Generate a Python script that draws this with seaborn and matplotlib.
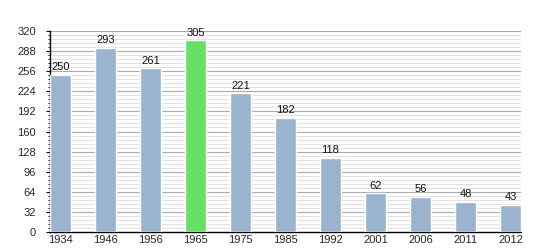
import matplotlib
matplotlib.use("Agg")
import matplotlib.pyplot as plt
import seaborn as sns
import pandas as pd
from matplotlib.ticker import MultipleLocator

years = ["1934", "1946", "1956", "1965", "1975", "1985", "1992", "2001", "2006", "2011", "2012"]
population = [250, 293, 261, 305, 221, 182, 118, 62, 56, 48, 43]
highlight = "1965"

sns.set_theme(style="white")
plt.rcParams['font.family'] = ['Liberation Sans', 'DejaVu Sans']

df = pd.DataFrame({"year": years, "pop": population})
colors = ["#66e066" if y == highlight else "#9ab4cf" for y in years]

fig = plt.figure(figsize=(5.5, 2.5), dpi=100)
ax = fig.add_axes([50/550, 18/250, 471/550, 201/250])
w = 0.467
sns.barplot(data=df, x="year", y="pop", hue="year", palette=colors, legend=False,
            width=w, saturation=1, ax=ax, zorder=3)

for i, v in enumerate(population):
    ax.text(i, v + 4, str(v), ha="center", va="bottom", fontsize=8, color="#111111", zorder=4)

ax.set_xlim(-w/2, len(years) - 1 + w/2)
ax.set_ylim(0, 320)
ax.yaxis.set_major_locator(MultipleLocator(32))
ax.yaxis.set_minor_locator(MultipleLocator(6.4))
ax.grid(which="major", axis="y", color="#aaaaaa", linewidth=0.8, zorder=0)
ax.grid(which="minor", axis="y", color="#dddddd", linewidth=0.6, zorder=0)
ax.set_axisbelow(True)
ax.set_xlabel("")
ax.set_ylabel("")
for s in ["top", "right"]:
    ax.spines[s].set_visible(False)
ax.spines["left"].set_color("black")
ax.spines["bottom"].set_color("black")
ax.spines["left"].set_linewidth(1)
ax.spines["bottom"].set_linewidth(1)
ax.tick_params(axis="y", which="major", left=True, length=3, width=0.8, color="black", labelsize=8, pad=7)
ax.tick_params(axis="y", which="minor", left=True, length=1.5, width=0.6, color="black")
ax.tick_params(axis="x", bottom=False, length=0, labelsize=8, pad=2.5)

fig.savefig("out.png", dpi=100)
